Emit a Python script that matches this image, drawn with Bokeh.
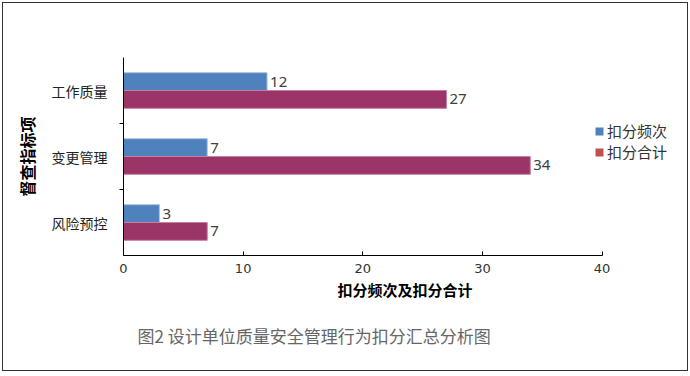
from bokeh.plotting import figure
from bokeh.models import (Range1d, FixedTicker, Legend, LegendItem, ColumnDataSource, Title)
from bokeh.core.properties import value
from bokeh.transform import dodge
from bokeh.embed import file_html
from bokeh.resources import INLINE

# ---- data (categories listed bottom to top) ----
categories = ["风险预控", "变更管理", "工作质量"]
deduct_count = [3, 7, 12]      # 扣分频次
deduct_total = [7, 34, 27]     # 扣分合计
series_names = ["扣分频次", "扣分合计"]
x_ticks = [0, 10, 20, 30, 40]
x_label = "扣分频次及扣分合计"
y_label = "督查指标项"
caption = "图2 设计单位质量安全管理行为扣分汇总分析图"

CJK = "Noto Sans CJK SC"
BLUE = "#4F81BD"
MAROON = "#9B3467"
RED = "#C0504D"

# layout: axis spans 476 px; the frame extends further right to hold the legend
AXIS_PX = 476
FRAME_PX = 560
x_end = x_ticks[-1] * FRAME_PX / AXIS_PX

pos = [i + 0.5 for i in range(len(categories))]
src = ColumnDataSource(dict(
    y=pos, cat=categories,
    a=deduct_count, b=deduct_total,
    alab=[str(v) for v in deduct_count],
    blab=[str(v) for v in deduct_total],
))

p = figure(width=686, height=369, output_backend="svg", toolbar_location=None,
           x_range=Range1d(x_ticks[0], x_end), y_range=Range1d(0, len(categories)),
           min_border_left=120, min_border_right=3, min_border_top=54, min_border_bottom=117,
           background_fill_color="white", border_fill_color="white")
p.outline_line_color = None
p.grid.visible = False
p.styles = {"border": "1.5px solid #333333", "box-sizing": "border-box",
            "margin": "2px 0 0 2px"}

bw = 0.27
p.hbar(y=dodge("y", bw / 2), left=0, right="a", height=bw, source=src,
       fill_color=BLUE, line_color="#A9C2E0", line_width=1)
p.hbar(y=dodge("y", -bw / 2), left=0, right="b", height=bw, source=src,
       fill_color=MAROON, line_color="#C67FA3", line_width=1)

for col, lab, off in (("a", "alab", bw / 2), ("b", "blab", -bw / 2)):
    p.text(x=col, y=dodge("y", off), text=lab, source=src, x_offset=3,
           text_baseline="middle", text_align="left", text_font_size="15px",
           text_color="#404040", text_font=value("Noto Sans"))

# x axis
xa = p.xaxis[0]
xa.bounds = (x_ticks[0], x_ticks[-1])
xa.ticker = FixedTicker(ticks=x_ticks)
xa.major_tick_in = 4
xa.major_tick_out = 0
xa.minor_tick_in = 0
xa.minor_tick_out = 0
xa.axis_line_color = "black"
xa.major_tick_line_color = "black"
xa.major_label_standoff = 8
xa.major_label_text_font_size = "13px"
xa.major_label_text_color = "#333333"
xa.major_label_text_font = "DejaVu Sans"
xa.axis_label = x_label
xa.axis_label_text_font = CJK
xa.axis_label_text_font_size = "15px"
xa.axis_label_text_font_style = "bold"
xa.axis_label_text_color = "black"
xa.axis_label_standoff = 3

# y axis
ya = p.yaxis[0]
ya.ticker = FixedTicker(ticks=pos, minor_ticks=list(range(1, len(categories))))
ya.major_label_overrides = {v: c for v, c in zip(pos, categories)}
ya.major_tick_in = 0
ya.major_tick_out = 0
ya.minor_tick_in = 0
ya.minor_tick_out = 4
ya.minor_tick_line_color = "black"
ya.axis_line_color = "black"
ya.major_label_standoff = 12
ya.major_label_text_font = CJK
ya.major_label_text_font_size = "14px"
ya.major_label_text_color = "#222222"
ya.axis_label = y_label
ya.axis_label_text_font = CJK
ya.axis_label_text_font_size = "16px"
ya.axis_label_text_font_style = "bold"
ya.axis_label_text_color = "black"
ya.axis_label_standoff = 10

# legend (swatches use the legend colours of the original); the swatch
# renderers hold one undrawn (NaN) bar each
nan = float("nan")
r1 = p.hbar(y=[nan], left=[0], right=[0], height=0.1, fill_color=BLUE, line_color=None)
r2 = p.hbar(y=[nan], left=[0], right=[0], height=0.1, fill_color=RED, line_color=None)
legend = Legend(items=[LegendItem(label=series_names[0], renderers=[r1]),
                       LegendItem(label=series_names[1], renderers=[r2])],
                location=(471, 93), border_line_color=None, background_fill_alpha=0,
                padding=0, margin=0, spacing=-2, glyph_width=10, glyph_height=10,
                label_height=14, label_standoff=3, label_text_font=CJK,
                label_text_font_size="15px", label_text_color="#333333")
p.add_layout(legend, "center")

# caption
cap = Title(text=caption, align="left", offset=14, text_font=CJK, text_font_size="17px",
            text_font_style="normal", text_color="#666666", standoff=37)
p.add_layout(cap, "below")

open("out.html", "w").write(file_html(p, INLINE))
